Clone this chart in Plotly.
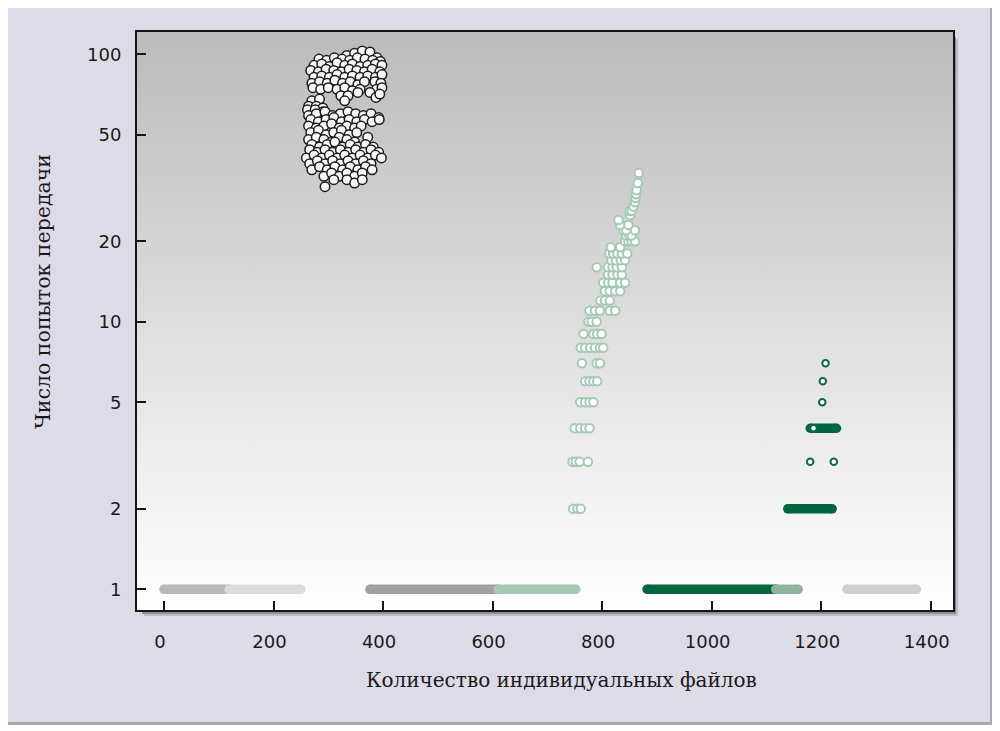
import base64
import plotly.graph_objects as go

# ---------------- data ----------------
# black-outlined cluster (files vs. attempts)
black_x = [334, 348, 362, 376, 389,
           283, 297, 311, 325, 339, 353, 367, 381, 395,
           274, 288, 302, 316, 330, 344, 358, 372, 386, 398,
           268, 282, 296, 310, 324, 338, 352, 366, 380, 394,
           274, 288, 302, 316, 330, 344, 358, 372, 386, 398,
           270, 284, 298, 312, 326, 340, 354, 366, 385, 396,
           272, 286, 300, 316, 330, 344, 358, 388, 398,
           376, 387, 394, 354,
           323, 336, 330,
           270, 284, 264, 278, 290,
           262, 276, 290,
           264, 278, 294, 308, 322, 336, 350, 364, 378, 392,
           268, 282, 296, 310, 324, 338, 352, 366, 380, 393,
           264, 278, 292, 306, 320, 334, 348, 360,
           268, 282, 296, 310, 324, 338, 352,
           264, 278, 292, 306, 320, 334, 348, 372,
           270, 284, 298, 312, 326, 340, 354, 368, 382,
           266, 280, 294, 308, 322, 336, 350, 364, 378, 392,
           260, 274, 288, 302, 316, 330, 344, 358, 372, 386, 397,
           266, 280, 294, 308, 322, 336, 350, 364, 378,
           270, 284, 298, 312, 326, 340, 354, 368, 380,
           292, 306, 320, 334, 348, 362,
           310, 334, 348, 362,
           294]
black_y = [99, 101, 103, 102, 97,
           96, 95, 97, 96, 95, 97, 96, 95, 94,
           91, 92, 90, 93, 91, 92, 90, 91, 92, 91,
           87, 86, 88, 87, 86, 88, 87, 86, 88, 86,
           82, 83, 82, 84, 82, 83, 82, 83, 82, 84,
           78, 79, 78, 80, 78, 79, 77, 79, 79, 78,
           75, 74, 75, 74, 75, 73, 74, 74, 75,
           72, 69, 71, 72,
           70, 70, 67,
           67, 68, 64, 64, 63,
           62, 62, 61,
           59, 60, 61, 59, 60, 61, 60, 59, 60, 58,
           57, 56, 57, 58, 56, 57, 56, 57, 56, 57,
           54, 53, 54, 55, 53, 54, 53, 54,
           51, 52, 50, 51, 52, 50, 51,
           48, 49, 48, 47, 49, 48, 47, 49,
           46, 45, 46, 47, 45, 46, 45, 46, 45,
           44, 43, 44, 43, 44, 43, 44, 43, 44, 43,
           41, 42, 41, 42, 41, 42, 41, 42, 41, 42, 41,
           39, 40, 39, 40, 39, 40, 39, 40, 39,
           37, 38, 37, 38, 37, 38, 37, 38, 37,
           35, 36, 35, 36, 35, 36,
           34, 34, 33, 34,
           32]

# light-green series
lg_x = [747, 755, 761,
        746, 752, 759, 774,
        750, 760, 769, 777,
        760, 769, 777, 784,
        769, 777, 784, 791,
        763, 790, 796,
        761, 769, 778, 787, 796, 802,
        766, 784, 791, 799,
        775, 781, 790,
        777, 787, 796, 814, 824,
        797, 805, 814,
        805, 814, 824, 833,
        802, 811, 819, 833, 842,
        811, 819, 828, 836,
        790, 811, 819, 827, 836,
        817, 825, 834, 842,
        813, 820, 828, 836, 846,
        816, 833,
        842, 848, 854, 860,
        844, 850, 854,
        839, 844, 860,
        833, 848,
        830,
        851,
        850, 854,
        857,
        860,
        861,
        862,
        863,
        865,
        867]
lg_y = [2, 2, 2,
        3, 3, 3, 3,
        4, 4, 4, 4,
        5, 5, 5, 5,
        6, 6, 6, 6,
        7, 7, 7,
        8, 8, 8, 8, 8, 8,
        9, 9, 9, 9,
        10, 10, 10,
        11, 11, 11, 11, 11,
        12, 12, 12,
        13, 13, 13, 13,
        14, 14, 14, 14, 14,
        15, 15, 15, 15,
        16, 16, 16, 16, 16,
        17, 17, 17, 17,
        18, 18, 18, 18, 18,
        19, 19,
        20, 20, 20, 20,
        21, 21, 21,
        22, 22, 22,
        23, 23,
        24,
        25,
        26, 26,
        27,
        28,
        29,
        30,
        31,
        33,
        36]

# dark-green series: isolated points and dense runs
dg_x = [1208, 1203, 1202, 1180, 1223, 1186]
dg_y = [7, 6, 5, 3, 3, 4]
dg_run_y = [2, 4]
dg_run_start = [1139, 1180]
dg_run_end = [1220, 1228]

# single-attempt runs (y = 1)
run_start = [0, 119, 376, 610, 882, 1117, 1247]
run_end = [119, 250, 610, 752, 1117, 1158, 1374]
run_colors = ["#b8b8bc", "#dcdcde", "#a0a0a4", "#a4cab4", "#00663f", "#8db59f", "#cfcfd1"]

y_ticks = [1, 2, 5, 10, 20, 50, 100]
x_ticks = [0, 200, 400, 600, 800, 1000, 1200, 1400]

# ---------------- figure ----------------
OFF = 8                      # page offset of the plot div (body margin)
W, H = 1000 - OFF, 731 - OFF
PL, PT, PR, PB = 137, 32, 953, 610   # plot area in page pixels
L, T = PL - OFF, PT - OFF
pw, ph = PR - PL, PB - PT
R, B = W - L - pw, H - T - ph


def px2paper_x(px):
    return (px - PL) / pw


def px2paper_y(py):
    return (PB - py) / ph


fig = go.Figure()

BAR_W = 9.5
for xs, xe, c in zip(run_start, run_end, run_colors):
    fig.add_trace(go.Scatter(
        x=[xs, xe], y=[1, 1], mode="lines+markers",
        line=dict(color=c, width=BAR_W),
        marker=dict(color=c, size=BAR_W, line=dict(width=0)),
        hoverinfo="skip", showlegend=False))

fig.add_trace(go.Scatter(
    x=black_x, y=black_y, mode="markers",
    marker=dict(size=9.5, color="#f7f7f7", line=dict(color="#1c1c1c", width=1.5)),
    showlegend=False))

fig.add_trace(go.Scatter(
    x=lg_x, y=lg_y, mode="markers",
    marker=dict(size=8.5, color="#ffffff", line=dict(color="#a4cab4", width=2)),
    showlegend=False))

for yv, xs, xe in zip(dg_run_y, dg_run_start, dg_run_end):
    fig.add_trace(go.Scatter(
        x=[xs, xe], y=[yv, yv], mode="lines+markers",
        line=dict(color="#00663f", width=BAR_W),
        marker=dict(color="#00663f", size=BAR_W, line=dict(width=0)),
        hoverinfo="skip", showlegend=False))

fig.add_trace(go.Scatter(
    x=dg_x, y=dg_y, mode="markers",
    marker=dict(size=6.5, color="#ffffff", line=dict(color="#0b6a47", width=2)),
    showlegend=False))

# gradient plot background
svg = ('<svg xmlns="http://www.w3.org/2000/svg" width="100" height="100" '
       'viewBox="0 0 100 100" preserveAspectRatio="none"><defs>'
       '<linearGradient id="g" x1="0" y1="0" x2="0" y2="1">'
       '<stop offset="0" stop-color="#bbbbbb"/>'
       '<stop offset="0.55" stop-color="#e1e1e2"/>'
       '<stop offset="1" stop-color="#ffffff"/>'
       '</linearGradient></defs>'
       '<rect width="100" height="100" fill="url(#g)"/></svg>')
src = "data:image/svg+xml;base64," + base64.b64encode(svg.encode()).decode()

shapes = []


def rect(x0, y0, x1, y1, color):
    shapes.append(dict(type="rect", xref="paper", yref="paper",
                       x0=px2paper_x(x0), x1=px2paper_x(x1),
                       y0=px2paper_y(y1), y1=px2paper_y(y0),
                       fillcolor=color, line=dict(width=0), layer="below"))


# page white border / panel shadow
rect(990, 0, 1000, 731, "#ffffff")
rect(0, 722, 1000, 731, "#ffffff")
rect(990, 6, 993, 725, "#a9a9b0")
rect(8, 722, 993, 725, "#a9a9b0")
# plot-area shadow
rect(953, 37, 956, 614, "#8f8d9a")
rect(142, 610, 956, 614, "#8f8d9a")
rect(956, 39, 958, 616, "#bdbbc9")
rect(144, 614, 958, 616, "#bdbbc9")

fig.update_layout(
    width=W, height=H,
    margin=dict(l=L, r=R, t=T, b=B, pad=0),
    paper_bgcolor="#dedbe9",
    plot_bgcolor="#ffffff",
    images=[dict(source=src, xref="paper", yref="paper", x=0, y=1,
                 sizex=1, sizey=1, xanchor="left", yanchor="top",
                 sizing="stretch", layer="below")],
    shapes=shapes,
    font=dict(family="DejaVu Sans", color="#1a1a1a", size=18),
    annotations=[
        dict(text="Количество индивидуальных файлов", xref="paper", yref="paper",
             x=px2paper_x(561), y=px2paper_y(680), showarrow=False,
             xanchor="center", yanchor="middle",
             font=dict(family="DejaVu Serif", size=20, color="#1a1a1a")),
        dict(text="Число попыток передачи", xref="paper", yref="paper",
             x=px2paper_x(43), y=px2paper_y(292), showarrow=False, textangle=-90,
             xanchor="center", yanchor="middle",
             font=dict(family="DejaVu Serif", size=20.5, color="#1a1a1a")),
    ],
)

fig.update_xaxes(
    range=[-49.3, 1440.7], tickvals=x_ticks, ticktext=[str(v) for v in x_ticks],
    ticks="inside", ticklen=9, tickwidth=2, tickcolor="#151515",
    showline=True, linecolor="#151515", linewidth=2, mirror=True,
    showgrid=False, zeroline=False, ticklabelstandoff=14, ticklabelshift=-4,
)
fig.update_yaxes(
    type="log", range=[-0.0774, 2.0834],
    tickvals=y_ticks, ticktext=[str(v) for v in y_ticks],
    ticks="inside", ticklen=9, tickwidth=2, tickcolor="#151515",
    showline=True, linecolor="#151515", linewidth=2, mirror=True,
    showgrid=False, zeroline=False, ticklabelstandoff=10,
)

fig.write_html("out.html")
